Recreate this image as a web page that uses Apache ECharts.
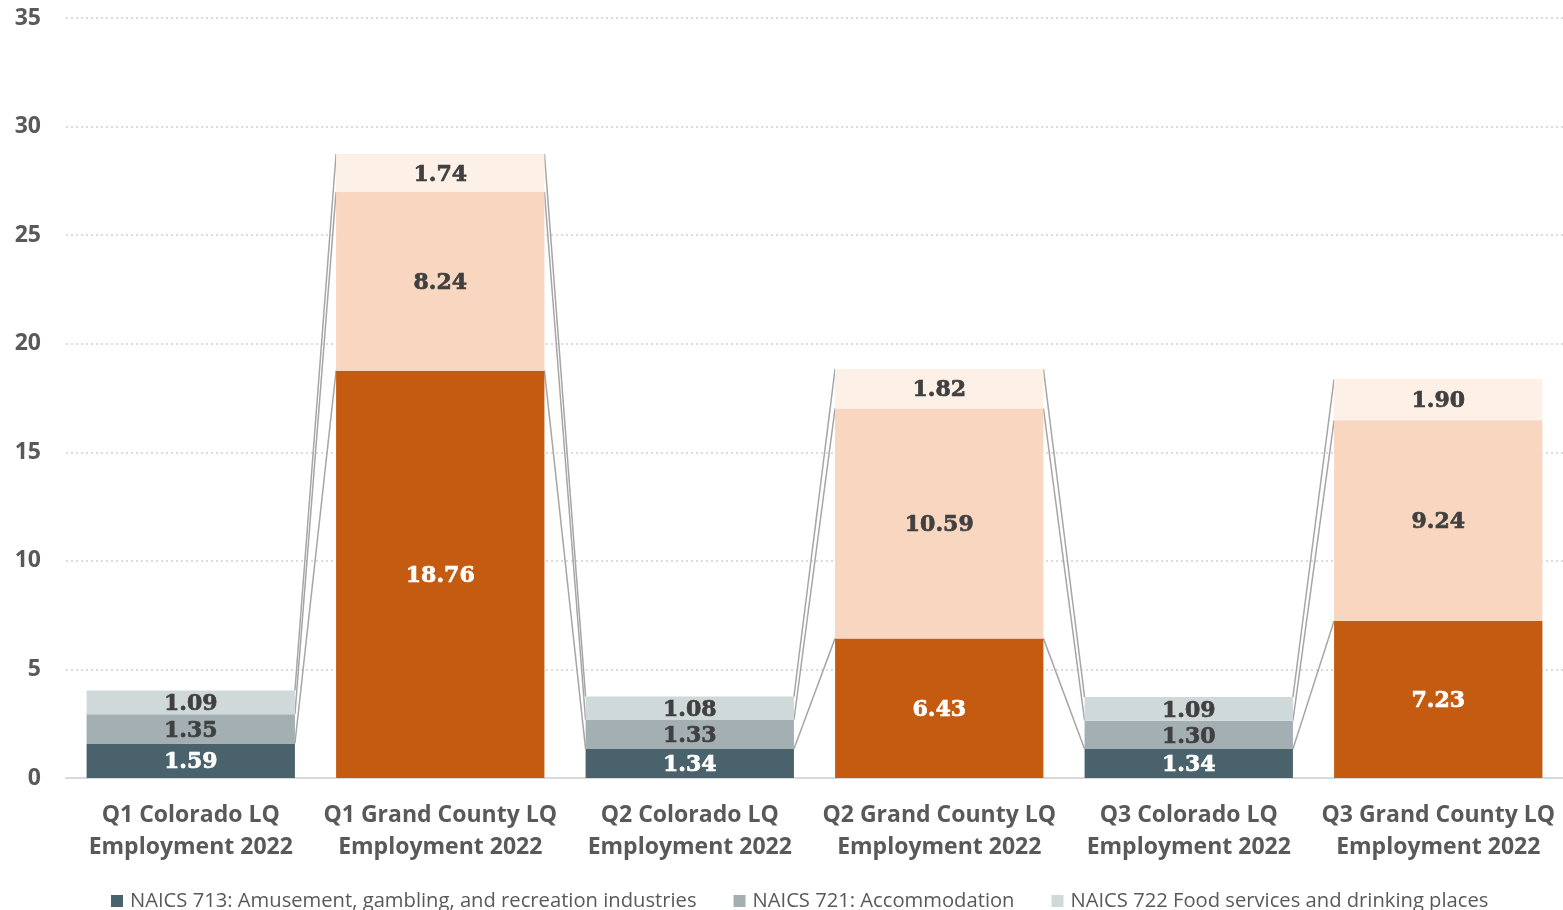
<!DOCTYPE html>
<html>
<head>
<meta charset="utf-8">
<script src="https://cdn.jsdelivr.net/npm/echarts@6/dist/echarts.min.js"></script>
<style>
html,body{margin:0;padding:0;background:#fff;}
#chart{width:1563px;height:910px;}
</style>
</head>
<body>
<div id="chart"></div>
<script>
const categories = [
  'Q1 Colorado LQ\nEmployment 2022',
  'Q1 Grand County LQ\nEmployment 2022',
  'Q2 Colorado LQ\nEmployment 2022',
  'Q2 Grand County LQ\nEmployment 2022',
  'Q3 Colorado LQ\nEmployment 2022',
  'Q3 Grand County LQ\nEmployment 2022'
];
const seriesNames = [
  'NAICS 713: Amusement, gambling, and recreation industries',
  'NAICS 721: Accommodation',
  'NAICS 722 Food services and drinking places'
];
const naics713 = [1.59, 18.76, 1.34, 6.43, 1.34, 7.23];
const naics721 = [1.35, 8.24, 1.33, 10.59, 1.30, 9.24];
const naics722 = [1.09, 1.74, 1.08, 1.82, 1.09, 1.90];
const yTicks = [0, 5, 10, 15, 20, 25, 30, 35];

const coloradoColors = ['#4a626c', '#a3afb3', '#d0d9da'];
const grandColors = ['#c55a11', '#f8d6bf', '#fcf0e7'];
const labelColors = ['#ffffff', '#404040', '#404040'];
const barRatio = 0.835;

const allSeries = [naics713, naics721, naics722];

function makeData(values, si) {
  return values.map((v, i) => {
    const isGrand = i % 2 === 1;
    const lc = labelColors[si];
    return {
      value: v,
      itemStyle: { color: isGrand ? grandColors[si] : coloradoColors[si] },
      label: { color: lc, textBorderColor: lc }
    };
  });
}

const barSeries = allSeries.map((vals, si) => ({
  name: seriesNames[si],
  type: 'bar',
  stack: 'total',
  barWidth: (barRatio * 100) + '%',
  color: coloradoColors[si],
  z: 3,
  data: makeData(vals, si),
  label: {
    show: true,
    position: 'inside',
    offset: [0, 2],
    formatter: p => p.value.toFixed(2),
    fontFamily: 'DejaVu Serif',
    fontWeight: 'bold',
    fontSize: 22,
    textBorderWidth: 0.7
  },
  emphasis: { disabled: true }
}));

// cumulative tops
const cum = categories.map((c, i) => {
  let s = 0;
  return allSeries.map(arr => (s += arr[i]));
});

const gapData = categories.slice(0, -1).map((c, i) => [i, 0]);

const seriesLines = {
  type: 'custom',
  coordinateSystem: 'cartesian2d',
  silent: true,
  z: 2,
  data: gapData,
  encode: { x: 0, y: 1 },
  renderItem: function (params, api) {
    const i = api.value(0);
    const band = api.size([1, 0])[0];
    const half = band * barRatio / 2;
    const children = [];
    for (let k = 0; k < 3; k++) {
      const p1 = api.coord([i, cum[i][k]]);
      const p2 = api.coord([i + 1, cum[i + 1][k]]);
      children.push({
        type: 'line',
        shape: { x1: p1[0] + half, y1: p1[1], x2: p2[0] - half, y2: p2[1] },
        style: { stroke: '#a6a6a6', lineWidth: 1.5 }
      });
    }
    return { type: 'group', children: children };
  }
};

const chart = echarts.init(document.getElementById('chart'));
chart.setOption({
  animation: false,
  backgroundColor: '#ffffff',
  grid: { left: 66, right: -3, top: 18, bottom: 132, containLabel: false },
  legend: {
    data: seriesNames,
    bottom: -6,
    left: 106,
    itemWidth: 12,
    itemHeight: 12,
    itemGap: 37,
    icon: 'rect',
    textStyle: { fontFamily: 'Open Sans', fontSize: 20.2, color: '#595959', padding: [0, 0, 0, 2] }
  },
  xAxis: {
    type: 'category',
    data: categories,
    axisLine: { lineStyle: { color: '#d9d9d9', width: 2 } },
    axisTick: { show: false },
    axisLabel: {
      interval: 0,
      margin: 21,
      fontFamily: 'Open Sans',
      fontWeight: 'bold',
      fontSize: 23,
      lineHeight: 32,
      color: '#595959'
    }
  },
  yAxis: {
    type: 'value',
    min: yTicks[0],
    max: yTicks[yTicks.length - 1],
    interval: 5,
    axisLine: { show: false },
    axisTick: { show: false },
    axisLabel: {
      margin: 25,
      fontFamily: 'Open Sans',
      fontWeight: 'bold',
      fontSize: 23,
      color: '#595959'
    },
    splitLine: { lineStyle: { color: '#d0d0d0', type: [2, 3], width: 1.5 } }
  },
  series: [seriesLines].concat(barSeries)
});
</script>
</body>
</html>
